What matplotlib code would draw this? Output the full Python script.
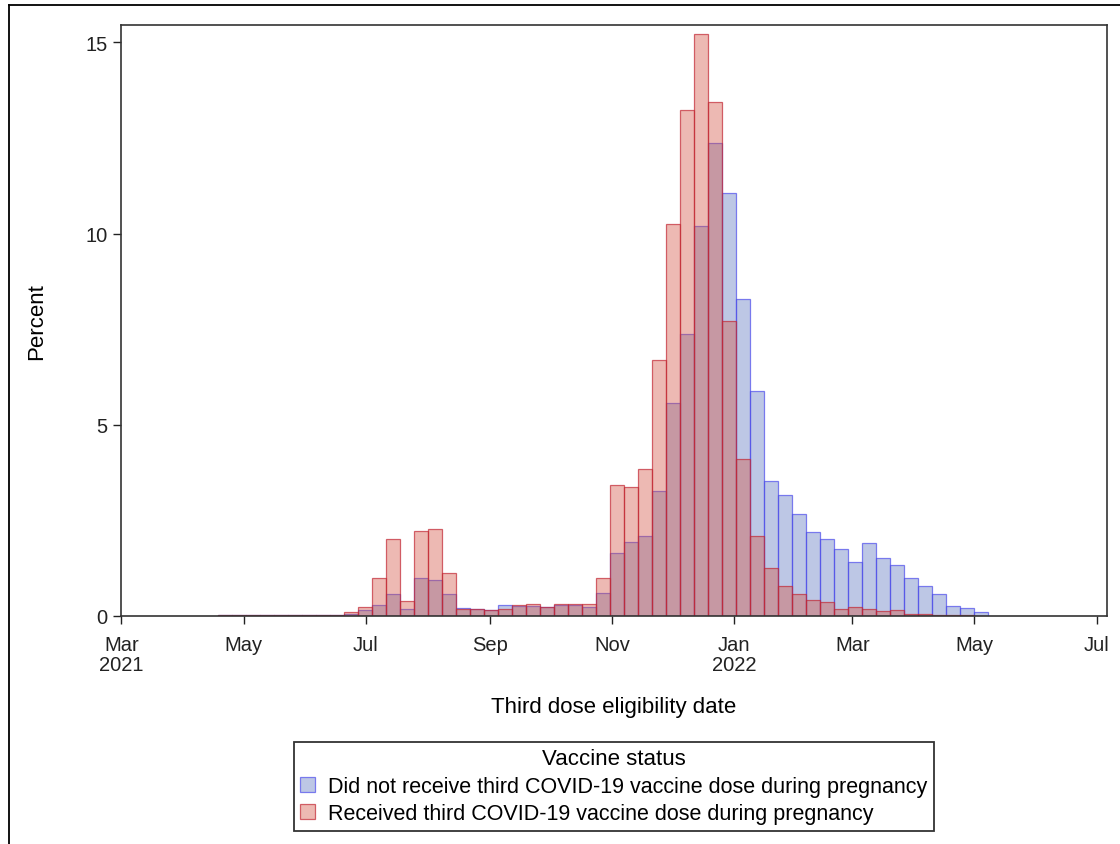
import matplotlib
matplotlib.use("Agg")
import matplotlib.pyplot as plt
import matplotlib.dates as mdates
from matplotlib.lines import Line2D
import pandas as pd
import datetime as dt

plt.rcParams['font.family'] = ['Liberation Sans', 'DejaVu Sans']

# weekly bins (week starting Sunday)
weeks = pd.date_range('2021-04-18', periods=55, freq='7D')

not_received = [0.03, 0.02, 0.02, 0.02, 0.02, 0.02, 0.03, 0.03, 0.03,
                0.06, 0.16, 0.28, 0.56, 0.17, 0.98, 0.93, 0.56, 0.21, 0.19,
                0.15, 0.29, 0.27, 0.26, 0.23, 0.28, 0.28, 0.22, 0.59, 1.64,
                1.94, 2.09, 3.26, 5.56, 7.36, 10.19, 12.36, 11.06, 8.29, 5.87,
                3.52, 3.16, 2.67, 2.19, 2.01, 1.74, 1.42, 1.91, 1.52, 1.34,
                0.99, 0.78, 0.57, 0.26, 0.20, 0.09]
received = [0.02, 0.02, 0.02, 0.02, 0.02, 0.02, 0.02, 0.02, 0.03,
            0.10, 0.24, 0.98, 2.00, 0.38, 2.21, 2.27, 1.12, 0.19, 0.18,
            0.14, 0.19, 0.28, 0.30, 0.24, 0.31, 0.30, 0.31, 1.00, 3.42,
            3.38, 3.83, 6.68, 10.24, 13.24, 15.23, 13.44, 7.70, 4.11, 2.08,
            1.24, 0.77, 0.56, 0.42, 0.35, 0.19, 0.22, 0.18, 0.12, 0.15,
            0.05, 0.04, 0.03, 0.03, 0.01, 0.00]

labels = ["Did not receive third COVID-19 vaccine dose during pregnancy",
          "Received third COVID-19 vaccine dose during pregnancy"]

tick_dates = ['2021-03-01', '2021-05-01', '2021-07-01', '2021-09-01', '2021-11-01',
              '2022-01-01', '2022-03-01', '2022-05-01', '2022-07-01']
tick_labels = ['Mar\n2021', 'May', 'Jul', 'Sep', 'Nov', 'Jan\n2022', 'Mar', 'May', 'Jul']

fig = plt.figure(figsize=(11.2, 8.45), dpi=100)
ax = fig.add_axes([0.108, 0.270, 0.880, 0.699])

x = mdates.date2num(weeks.to_pydatetime())
ax.bar(x, not_received, width=7, align='edge',
       facecolor=(0.36, 0.46, 0.75, 0.4), edgecolor=(0.3, 0.3, 0.92, 0.7),
       linewidth=0.9, label=labels[0])
ax.bar(x, received, width=7, align='edge',
       facecolor=(0.83, 0.32, 0.26, 0.4), edgecolor=(0.76, 0.15, 0.2, 0.7),
       linewidth=0.9, label=labels[1])

ax.set_xlim(mdates.date2num(dt.datetime(2021, 2, 28, 18)),
            mdates.date2num(dt.datetime(2022, 7, 6)))
ax.set_ylim(0, 15.45)
ax.set_yticks([0, 5, 10, 15])
ax.set_xticks(mdates.date2num(pd.to_datetime(tick_dates).to_pydatetime()))
ax.set_xticklabels(tick_labels, linespacing=1.05)

ax.tick_params(direction='out', length=6, width=1.0, labelsize=14.5, colors='#222222')
ax.tick_params(axis='x', pad=8)
for s in ax.spines.values():
    s.set_linewidth(1.2)
    s.set_color('#333333')

ax.set_xlabel("Third dose eligibility date", fontsize=16, labelpad=16)
ax.set_ylabel("Percent", fontsize=16, labelpad=28)

leg = fig.legend(loc='upper center', bbox_to_anchor=(0.548, 1 - 743 / 845),
                 borderaxespad=0,
                 title="Vaccine status", fontsize=15.5, title_fontsize=16,
                 frameon=True, fancybox=False, edgecolor='black',
                 handlelength=0.7, handleheight=0.7, handletextpad=0.6,
                 labelspacing=0.3, borderpad=0.3, alignment='center')
leg.get_frame().set_linewidth(1.3)

# outer figure border (left and top visible)
fig.add_artist(Line2D([8.5 / 1120, 8.5 / 1120], [0, 1 - 6 / 845], color='black',
                      linewidth=1.3, transform=fig.transFigure))
fig.add_artist(Line2D([8.5 / 1120, 1], [1 - 6 / 845, 1 - 6 / 845], color='black',
                      linewidth=1.3, transform=fig.transFigure))

fig.savefig("out.png", dpi=100)
